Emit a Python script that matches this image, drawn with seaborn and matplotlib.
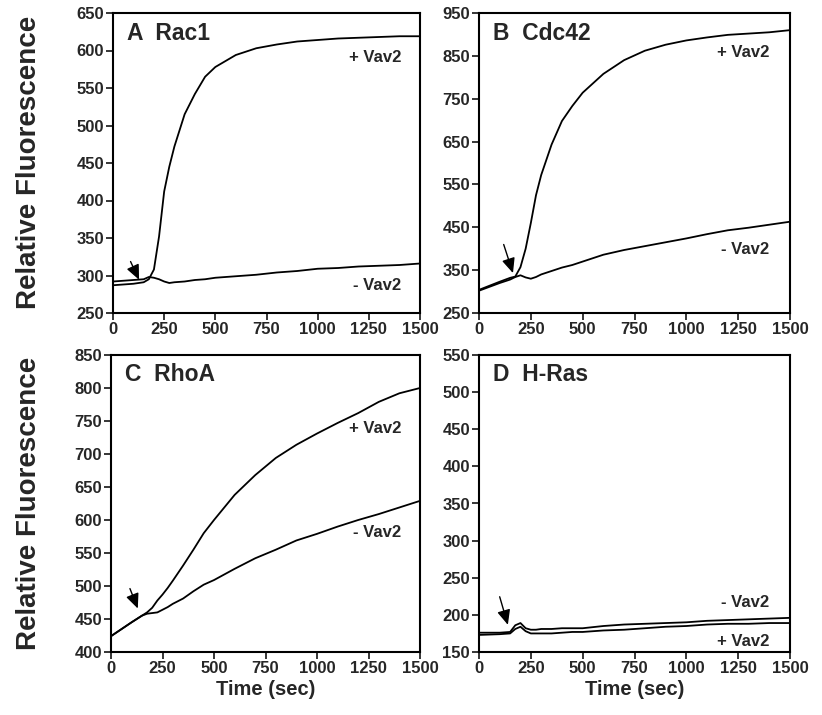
import matplotlib
matplotlib.use("Agg")
import matplotlib.pyplot as plt
import seaborn as sns

# sampled times (sec) shared by all traces
time_sec = [0, 100, 150, 175, 200, 225, 250, 275, 300, 350, 400, 450, 500,
            600, 700, 800, 900, 1000, 1100, 1200, 1300, 1400, 1500]

rac1_plus = [287, 289, 291, 295, 308, 352, 412, 445, 472, 515, 542, 565, 578,
             594, 603, 608, 612, 614, 616, 617, 618, 619, 619]
rac1_minus = [292, 294, 295, 298, 297, 295, 292, 290, 291, 292, 294, 295, 297,
              299, 301, 304, 306, 309, 310, 312, 313, 314, 316]

cdc42_plus = [304, 323, 332, 335, 357, 400, 460, 525, 572, 643, 698, 733, 764,
              808, 840, 862, 876, 886, 893, 899, 902, 905, 910]
cdc42_minus = [302, 320, 328, 334, 338, 333, 330, 334, 340, 348, 356, 362, 370,
               386, 397, 406, 415, 424, 434, 443, 449, 456, 463]

rhoa_plus = [424, 445, 455, 460, 467, 478, 487, 497, 508, 531, 555, 580, 600,
             638, 668, 694, 714, 731, 747, 762, 779, 792, 800]
rhoa_minus = [424, 445, 455, 458, 459, 460, 464, 468, 473, 481, 492, 502, 509,
              526, 542, 555, 569, 579, 590, 600, 609, 619, 629]

hras_plus = [173, 174, 175, 181, 184, 178, 175, 175, 175, 175, 176, 177, 177,
             179, 180, 182, 184, 185, 187, 188, 188, 189, 189]
hras_minus = [176, 176, 177, 186, 189, 182, 180, 180, 181, 181, 182, 182, 182,
              185, 187, 188, 189, 190, 192, 193, 194, 195, 196]

panel_titles = ["A  Rac1", "B  Cdc42", "C  RhoA", "D  H-Ras"]
y_ranges = [(250, 650, 50), (250, 950, 100), (400, 850, 50), (150, 550, 50)]
x_ticks = [0, 250, 500, 750, 1000, 1250, 1500]

# arrow (tail, head) and label spots in data units
arrows = [((80, 322), (133, 291)), ((115, 416), (168, 337)),
          ((87, 500), (135, 462)), ((96, 228), (143, 183))]
plus_labels = [(1280, 590), (1275, 858), (1282, 739), (1275, 164)]
minus_labels = [(1289, 286), (1283, 397), (1290, 581), (1283, 216)]

sns.set_style("ticks")
plt.rcParams["font.family"] = ["Liberation Sans", "DejaVu Sans"]
plt.rcParams["font.weight"] = "bold"

fig = plt.figure(figsize=(8.22, 7.15), dpi=100)
positions = [
    [113 / 822, 1 - 313 / 715, 307 / 822, 300 / 715],
    [479 / 822, 1 - 313 / 715, 311 / 822, 300 / 715],
    [111 / 822, 1 - 652 / 715, 309 / 822, 297 / 715],
    [479 / 822, 1 - 652 / 715, 311 / 822, 297 / 715],
]
series = [(rac1_plus, rac1_minus), (cdc42_plus, cdc42_minus),
          (rhoa_plus, rhoa_minus), (hras_plus, hras_minus)]

for i, pos in enumerate(positions):
    ax = fig.add_axes(pos)
    plus, minus = series[i]
    sns.lineplot(x=time_sec, y=plus, ax=ax, color="black", lw=1.3)
    sns.lineplot(x=time_sec, y=minus, ax=ax, color="black", lw=1.3)

    lo, hi, step = y_ranges[i]
    ax.set_xlim(0, 1500)
    ax.set_ylim(lo, hi)
    ax.set_xticks(x_ticks)
    ax.set_yticks(list(range(lo, hi + 1, step)))
    ax.tick_params(direction="out", length=5, width=1.3, labelsize=12, pad=1.5)
    for lbl in ax.get_xticklabels() + ax.get_yticklabels():
        lbl.set_fontweight("bold")
    for sp in ax.spines.values():
        sp.set_visible(True)
        sp.set_linewidth(1.5)
        sp.set_color("black")

    ax.text(0.045, 0.933, panel_titles[i], transform=ax.transAxes,
            fontsize=16.5, fontweight="bold", ha="left", va="center")

    tail, head = arrows[i]
    ax.annotate("", xy=head, xytext=tail,
                arrowprops=dict(arrowstyle="-|>,head_length=0.9,head_width=0.4",
                                color="black", lw=1.0))
    ax.text(*plus_labels[i], "+ Vav2", fontsize=12, fontweight="bold",
            ha="center", va="center")
    ax.text(*minus_labels[i], "- Vav2", fontsize=12, fontweight="bold",
            ha="center", va="center")

    if i >= 2:
        ax.set_xlabel("Time (sec)", fontsize=14.5, fontweight="bold", labelpad=3)

for yc in [1 - 162 / 715, 1 - 503 / 715]:
    fig.text(29 / 822, yc, "Relative Fluorescence", rotation=90, fontsize=20,
             fontweight="bold", ha="center", va="center")

fig.savefig("out.png", dpi=100)
